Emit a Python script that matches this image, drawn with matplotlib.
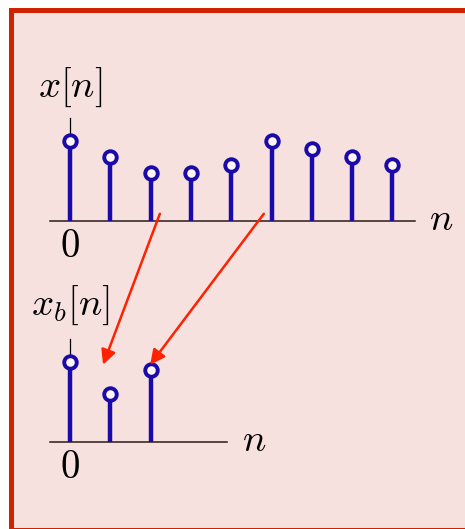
import matplotlib
matplotlib.use('Agg')
import matplotlib.pyplot as plt
from matplotlib.patches import Rectangle, ConnectionPatch

plt.rcParams['mathtext.fontset'] = 'cm'

# data
n_top = [0, 1, 2, 3, 4, 5, 6, 7, 8]
x_top = [10, 8, 6, 6, 7, 10, 9, 8, 7]
n_bot = [0, 1, 2]
x_bot = [10, 6, 9]
# arrows: (n, value) in top axes -> (n, value) in bottom axes
arrows = [((2.23, 0.9), (0.82, 9.6)),
          ((4.81, 0.9), (1.99, 9.6))]

W, H = 465, 529
STEM = '#1a0aaa'
BG = '#f7e1df'
RED = '#ff2200'
UNIT = 8.05      # px per value unit
STEP = 40.3      # px per sample
FS = 28


def make_axes(fig, x0, x1, base_y, x_right):
    # axes in pixel coords; n=0 at pixel x=70
    top_px, bot_px = base_y - 200, base_y + 60
    ax = fig.add_axes([x0 / W, 1 - bot_px / H, (x1 - x0) / W, (bot_px - top_px) / H])
    ax.set_xlim((x0 - 70) / STEP, (x1 - 70) / STEP)
    ax.set_ylim((base_y - bot_px) / UNIT, (base_y - top_px) / UNIT)
    ax.axis('off')
    ax.plot([(50 - 70) / STEP, (x_right - 70) / STEP], [0, 0], color='#2a1a1a', lw=1.1, zorder=1)
    return ax


def draw_stems(ax, n, v):
    ml, sl, bl = ax.stem(n, v, basefmt=' ')
    plt.setp(sl, color=STEM, lw=3.2, zorder=2)
    plt.setp(ml, color=STEM, marker='o', markersize=9, markeredgewidth=2.8,
             markerfacecolor='#fdf6f5', zorder=3)
    # small vertical axis tick above n=0
    ax.plot([0, 0], [v[0], v[0] + 2.85], color='black', lw=0.9, zorder=1)


fig = plt.figure(figsize=(W / 100, H / 100), dpi=100, facecolor='white')
frame = Rectangle((10.5 / W, -0.5 / H), 480 / W, 520 / H,
                  transform=fig.transFigure, facecolor=BG,
                  edgecolor='#d02200', lw=3.6, zorder=-10)
fig.patches.append(frame)

ax1 = make_axes(fig, 30, 460, 221, 415)
draw_stems(ax1, n_top, x_top)
ax1.text(0, (221 - 97) / UNIT, r'$x[n]$', fontsize=FS, ha='center', va='baseline')
ax1.text(0, -4.5, r'$0$', fontsize=FS, ha='center', va='baseline')
ax1.text(9.2, -1.1, r'$n$', fontsize=FS, ha='center', va='baseline')

ax2 = make_axes(fig, 30, 460, 442, 227)
draw_stems(ax2, n_bot, x_bot)
ax2.text(0, (442 - 315) / UNIT, r'$x_b[n]$', fontsize=FS, ha='center', va='baseline')
ax2.text(0, -4.5, r'$0$', fontsize=FS, ha='center', va='baseline')
ax2.text(4.57, -1.1, r'$n$', fontsize=FS, ha='center', va='baseline')

for (a, b) in arrows:
    con = ConnectionPatch(xyA=a, coordsA=ax1.transData, xyB=b, coordsB=ax2.transData,
                          arrowstyle='-|>', mutation_scale=22, color=RED, lw=1.8,
                          shrinkA=0, shrinkB=0, zorder=5)
    fig.add_artist(con)

fig.savefig('out.png', dpi=100, facecolor='white')
